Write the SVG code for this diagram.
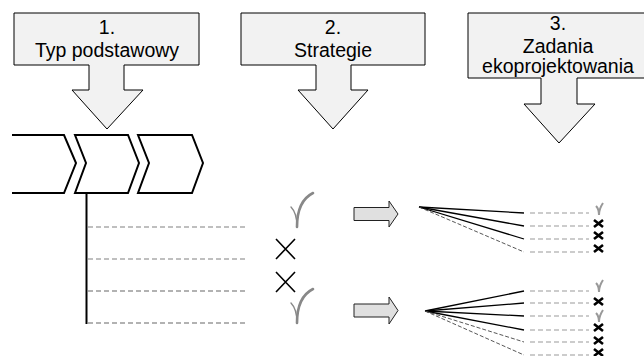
<svg xmlns="http://www.w3.org/2000/svg" width="644" height="356" viewBox="0 0 644 356">
<style>
.blk{fill:#f2f2f2;stroke:#000;stroke-width:1}
.t{font-family:"Liberation Sans",Arial,sans-serif;font-size:19.5px;fill:#000;text-anchor:middle}
.chev{fill:#fff;stroke:#000;stroke-width:2;stroke-linejoin:miter}
.dl{stroke:#aaa;stroke-width:1.3;stroke-dasharray:5 3;fill:none}
.dd{stroke:#666;stroke-width:1.2;stroke-dasharray:5 3;fill:none}
.fs{stroke:#000;stroke-width:1.3;fill:none}
.fd{stroke:#444;stroke-width:0.9;stroke-dasharray:4 2;fill:none}
.rd{stroke:#999;stroke-width:1.2;stroke-dasharray:5 3;fill:none}
.bx{stroke:#000;stroke-width:1.6;fill:none}
.sx{stroke:#000;stroke-width:2.6;fill:none}
.ck1{stroke:#888;stroke-width:1.4;fill:none;stroke-linecap:round}
.ck2{stroke:#888;stroke-width:2.6;fill:none;stroke-linecap:round}
.sc{stroke:#999;stroke-width:2;fill:none}
.ra{fill:#e0e0e0;stroke:#222;stroke-width:1}
</style>
<defs>
<g id="bigcheck">
<path class="ck1" d="M0,14 C3,17 6,22 6,34"/>
<path class="ck2" d="M6,34 C6,17 12,5 22,0"/>
</g>
<g id="bigx"><path class="bx" d="M0,0 L19,20 M19,0 L0,20"/></g>
<g id="sx"><path class="sx" d="M0,0 L9,7 M9,0 L0,7"/></g>
<g id="sck"><path class="sc" d="M0,3 C2,5 3,8 3,12 C3,7 5,3 7,0"/></g>
</defs>

<g id="step1">
<path class="blk" d="M14,13 H199 V65 H124 V90 H143 L107,129 L72,90 H89 V65 H14 Z"/>
<text class="t" x="107" y="34">1.</text>
<text class="t" x="107" y="57">Typ podstawowy</text>
</g>
<g id="step2">
<path class="blk" d="M241,13 H425 V65 H351 V90 H368 L333,129 L298,90 H316 V65 H241 Z"/>
<text class="t" x="333" y="34">2.</text>
<text class="t" x="333" y="57">Strategie</text>
</g>
<g id="step3">
<path class="blk" d="M468,13 H653 V78 H577 V104 H595 L559,143 L524,104 H541 V78 H468 Z"/>
<text class="t" x="558" y="30">3.</text>
<text class="t" x="558" y="53">Zadania</text>
<text class="t" x="558" y="73">ekoprojektowania</text>
</g>

<g id="chevrons">
<path class="chev" d="M12,135 H64 L76,163 L64,193 H12"/>
<path class="chev" d="M75,135 H128 L139,163 L128,193 H75 L86,163 Z"/>
<path class="chev" d="M138,135 H192 L203,163 L192,193 H138 L149,163 Z"/>
</g>

<g id="connectors">
<line x1="86.5" y1="193" x2="86.5" y2="324" stroke="#000" stroke-width="2"/>
<line class="dl" x1="88" y1="227" x2="248" y2="227"/>
<line class="dl" x1="88" y1="259" x2="248" y2="259"/>
<line class="dd" x1="88" y1="291" x2="248" y2="291"/>
<line class="dd" x1="88" y1="323" x2="248" y2="323"/>

<line class="fs" x1="419" y1="207" x2="524" y2="213"/>
<line class="fs" x1="419" y1="207" x2="524" y2="226"/>
<line class="fs" x1="419" y1="207" x2="524" y2="239"/>
<line class="fd" x1="419" y1="207" x2="524" y2="252"/>
<line class="rd" x1="530" y1="213" x2="589" y2="213"/>
<line class="rd" x1="530" y1="226" x2="589" y2="226"/>
<line class="rd" x1="530" y1="239" x2="589" y2="239"/>
<line class="rd" x1="530" y1="252" x2="589" y2="252"/>

<line class="fs" x1="425" y1="311" x2="524" y2="291"/>
<line class="fs" x1="425" y1="311" x2="524" y2="303"/>
<line class="fs" x1="425" y1="311" x2="524" y2="316"/>
<line class="fs" x1="425" y1="311" x2="524" y2="330"/>
<line class="fd" x1="425" y1="311" x2="524" y2="342"/>
<line class="fd" x1="425" y1="311" x2="524" y2="355"/>
<line class="rd" x1="530" y1="291" x2="589" y2="291"/>
<line class="rd" x1="530" y1="303" x2="589" y2="303"/>
<line class="rd" x1="530" y1="316" x2="589" y2="316"/>
<line class="rd" x1="530" y1="330" x2="589" y2="330"/>
<line class="rd" x1="530" y1="342" x2="589" y2="342"/>
<line class="rd" x1="530" y1="355" x2="589" y2="355"/>

<path class="ra" d="M354,207.5 H389 V201 L398,214 L389,227 V220.5 H354 Z"/>
<path class="ra" d="M354,304 H389 V297 L398,310.5 L389,324 V317 H354 Z"/>
</g>

<g id="marks">
<use href="#bigcheck" x="291" y="193"/>
<use href="#bigx" x="276" y="239"/>
<use href="#bigx" x="276" y="272"/>
<use href="#bigcheck" x="291" y="289"/>

<use href="#sck" x="596" y="203"/>
<use href="#sx" x="594" y="220"/>
<use href="#sx" x="594" y="232"/>
<use href="#sx" x="594" y="245"/>

<use href="#sck" x="596" y="280"/>
<use href="#sx" x="594" y="298"/>
<use href="#sck" x="596" y="310"/>
<use href="#sx" x="594" y="324"/>
<use href="#sx" x="594" y="337"/>
<use href="#sx" x="594" y="349"/>
</g>
</svg>
